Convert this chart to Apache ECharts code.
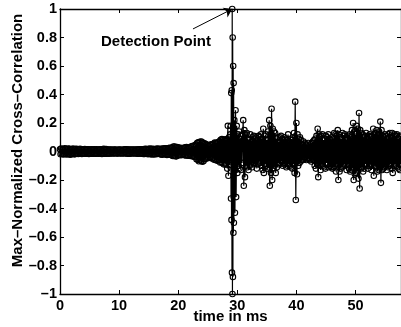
<!DOCTYPE html>
<html><head><meta charset="utf-8">
<script src="https://cdn.jsdelivr.net/npm/echarts@6/dist/echarts.min.js"></script>
<style>html,body{margin:0;padding:0;background:#fff}#c{width:401px;height:327px}</style>
</head><body><div id="c"></div>
<script>
// ---- data ----
const DT = 0.1;            // ms between samples
const preStart = 0;        // ms
const preVals = [
 .016,-.019,.021,-.015,.018,-.020,.014,-.019,.022,-.016,
 .019,-.021,.015,-.018,.020,-.014,.019,-.022,.016,-.018,
 .015,-.019,.020,-.016,.014,-.020,.018,-.015,.019,-.016,
 .014,-.018,.016,-.015,.019,-.014,.016,-.018,.013,-.016,
 .015,-.014,.018,-.016,.013,-.015,.016,-.014,.015,-.018,
 .014,-.016,.013,-.015,.016,-.013,.014,-.016,.015,-.014,
 .013,-.015,.016,-.014,.012,-.015,.014,-.013,.016,-.014,
 .015,-.018,.014,-.016,.019,-.015,.016,-.014,.018,-.015,
 .013,-.014,.012,-.015,.013,-.012,.014,-.013,.012,-.014,
 .012,-.013,.014,-.012,.013,-.014,.011,-.013,.012,-.014,
 .013,-.012,.014,-.013,.011,-.014,.012,-.013,.014,-.012,
 .015,-.013,.016,-.014,.013,-.015,.014,-.016,.013,-.014,
 .012,-.014,.013,-.012,.014,-.013,.012,-.014,.013,-.012,
 .014,-.015,.013,-.016,.015,-.014,.016,-.013,.015,-.016,
 .016,-.018,.015,-.017,.019,-.016,.018,-.015,.017,-.019,
 .018,-.016,.020,-.018,.017,-.021,.019,-.017,.018,-.020,
 .017,-.019,.016,-.018,.020,-.017,.019,-.016,.018,-.017,
 .019,-.021,.018,-.022,.020,-.018,.021,-.019,.022,-.020,
 .021,-.024,.022,-.020,.025,-.023,.026,-.022,.024,-.027,
 .028,-.032,.034,-.030,.035,-.033,.029,-.034,.031,-.028,
 .026,-.024,.027,-.025,.023,-.026,.024,-.022,.025,-.023,
 .024,-.027,.029,-.026,.031,-.028,.025,-.030,.027,-.024,
 .028,-.032,.035,-.031,.038,-.034,.040,-.037,.042,-.039,
 .048,-.055,.060,-.057,.064,-.068,.066,-.062,.070,-.065,
 .068,-.072,.060,-.066,.057,-.052,.054,-.050,.047,-.044,
 .042,-.046,.040,-.044,.048,-.041,.045,-.049,.052,-.047,
 .054,-.058,.062,-.056,.060,-.064,.057,-.061,.066,-.059,
 .072,-.077,.082,-.074,.087,-.080,.084,-.090,.078,-.082,
 .086,-.092,.080,-.120,.180,-.170,.100,-.094,.120
];
const spikeTimes = [28.90,28.94,28.98,29.02,29.06,29.10,29.14,29.18,29.22,29.26,29.30,29.34,29.38,29.42];
const spikeVals  = [ .18, -.33,  .41, -.48,  .43, -.85, 1.00,-1.00,  .80, -.88,  .60, -.57,  .48, -.50];
const postStart = 29.5;    // ms
const postVals = [
 .22,-.43,.29,-.32,.18,
 -.15,.12,-.10,.14,-.12,.09,-.13,.11,-.08,.12,
 .22,-.24,.15,-.18,.12,-.10,.13,-.11,.09,-.13,
 .08,-.10,.12,-.09,.07,-.11,.10,-.08,.11,-.09,
 .09,-.07,.10,-.12,.08,-.09,.11,-.07,.10,-.08,
 .12,-.10,.09,-.13,.16,-.15,.11,-.09,.12,-.10,
 .08,-.12,.14,-.11,.22,-.24,.18,-.15,.30,-.20,
 .16,-.12,.14,-.10,.13,-.15,.09,-.11,.10,-.08,
 .07,-.09,.10,-.08,.11,-.07,.09,-.10,.08,-.09,
 .10,-.08,.09,-.11,.08,-.10,.12,-.09,.07,-.10,
 .09,-.11,.08,-.12,.10,-.09,.13,-.15,.35,-.34,
 .20,-.16,.12,-.10,.09,-.08,.10,-.07,.08,-.06,
 .05,-.06,.07,-.05,.06,-.04,.05,-.06,.04,-.05,
 .06,-.05,.04,-.06,.05,-.07,.06,-.05,.07,-.06,
 .08,-.10,.09,-.12,.11,-.09,.16,-.18,.12,-.10,
 .10,-.13,.11,-.09,.12,-.10,.08,-.11,.09,-.12,
 .11,-.08,.10,-.09,.12,-.11,.09,-.10,.08,-.11,
 .10,-.12,.09,-.11,.13,-.10,.12,-.14,.11,-.09,
 .15,-.20,.12,-.14,.10,-.12,.09,-.11,.13,-.10,
 .11,-.09,.12,-.10,.08,-.13,.10,-.09,.11,-.12,
 .12,-.14,.10,-.13,.15,-.12,.20,-.20,.14,-.16,
 .12,-.15,.18,-.14,.16,-.19,.27,-.26,.15,-.12,
 .13,-.11,.12,-.14,.10,-.12,.11,-.09,.13,-.10,
 .09,-.12,.11,-.10,.12,-.09,.10,-.13,.11,-.10,
 .16,-.17,.12,-.10,.13,-.11,.15,-.14,.12,-.13,
 .14,-.12,.21,-.22,.15,-.13,.11,-.12,.10,-.11,
 .12,-.10,.11,-.13,.09,-.11,.12,-.10,.13,-.09,
 .10,-.12,.13,-.15,.11,-.10,.12,-.09,.11,-.10,
 .12,-.11,.09,-.12,.10,-.13,.11,-.09
];
const xMin = 0, xMax = 57.7, xStep = 10;
const yMin = -1, yMax = 1, yStep = 0.2;
const annotText = 'Detection Point';
const xTitle = 'time in ms';
const yTitle = 'Max\u2013Normalized Cross\u2013Correlation';

// ---- build ----
const r2 = v => Math.round(v * 1000) / 1000;
const data = [];
preVals.forEach((v, i) => data.push([r2(preStart + i * DT), v]));
spikeVals.forEach((v, i) => data.push([spikeTimes[i], v]));
postVals.forEach((v, i) => data.push([r2(postStart + i * DT), v]));

const pk = spikeVals.indexOf(Math.max.apply(null, spikeVals));
const peak = [spikeTimes[pk], spikeVals[pk]];

const FONT = '"Liberation Sans", Arial, Helvetica, sans-serif';
const dash = s => String(s).replace('-', '\u2013');
const axLine = { show: true, onZero: false, lineStyle: { color: '#000', width: 1.3 } };
const axTick = { show: true, inside: true, length: 4, lineStyle: { color: '#000', width: 1 } };
const lbl = { color: '#000', fontWeight: 'bold', fontSize: 14.5, fontFamily: FONT };

const chart = echarts.init(document.getElementById('c'), null, { renderer: 'canvas' });
chart.setOption({
  animation: false,
  backgroundColor: '#fff',
  grid: { left: 60, right: 0, top: 9, bottom: 33 },
  xAxis: [
    { type: 'value', min: xMin, max: xMax, interval: xStep, axisLine: axLine, axisTick: axTick,
      splitLine: { show: false },
      axisLabel: Object.assign({}, lbl, { margin: 4, showMaxLabel: false,
        formatter: v => (Math.abs(v % xStep) < 1e-9 ? String(v) : '') }) },
    { type: 'value', position: 'top', min: xMin, max: xMax, interval: xStep, axisLine: axLine,
      axisTick: axTick, splitLine: { show: false }, axisLabel: { show: false } }
  ],
  yAxis: [
    { type: 'value', min: yMin, max: yMax, interval: yStep, axisLine: axLine, axisTick: axTick,
      splitLine: { show: false },
      axisLabel: Object.assign({}, lbl, { margin: 3, formatter: v => dash(+(+v).toFixed(1)) }) },
    { type: 'value', position: 'right', min: yMin, max: yMax, interval: yStep, axisLine: axLine,
      axisTick: axTick, splitLine: { show: false }, axisLabel: { show: false } }
  ],
  series: [{
    type: 'line', data: data, xAxisIndex: 0, yAxisIndex: 0,
    symbol: 'circle', symbolSize: 5.5, showSymbol: true, showAllSymbol: true,
    itemStyle: { color: 'rgba(0,0,0,0)', borderColor: '#000', borderWidth: 1.1 },
    lineStyle: { color: '#000', width: 1.2 },
    emphasis: { disabled: true }, silent: true,
    markLine: {
      silent: true, animation: false, symbol: ['none', 'arrow'], symbolSize: 8,
      lineStyle: { color: '#000', width: 1, type: 'solid' }, label: { show: false },
      emphasis: { disabled: true },
      data: [[{ coord: [22.5, 0.86] }, { coord: peak }]]
    }
  }],
  graphic: [
    { type: 'text', x: 156, y: 42, silent: true,
      style: { text: annotText, fill: '#000', font: 'bold 15px ' + FONT, textAlign: 'center', textVerticalAlign: 'middle' } },
    { type: 'text', x: 230.5, y: 317, silent: true,
      style: { text: xTitle, fill: '#000', font: 'bold 15px ' + FONT, textAlign: 'center', textVerticalAlign: 'middle' } },
    { type: 'text', x: 18, y: 140.5, rotation: Math.PI / 2, silent: true,
      style: { text: yTitle, fill: '#000', font: 'bold 15px ' + FONT, textAlign: 'center', textVerticalAlign: 'middle' } }
  ]
});
</script></body></html>
